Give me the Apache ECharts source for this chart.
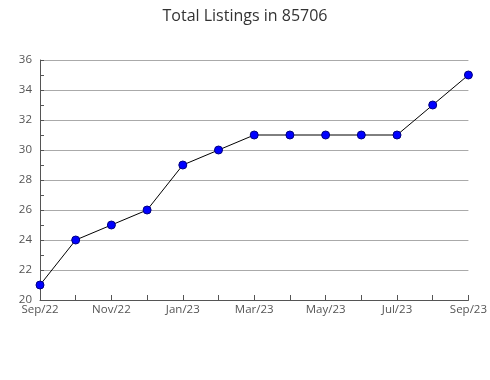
<!DOCTYPE html>
<html><head><meta charset="utf-8">
<script src="https://cdn.jsdelivr.net/npm/echarts@6/dist/echarts.min.js"></script>
<style>html,body{margin:0;padding:0;background:#fff}#c{width:490px;height:380px}</style>
</head><body><div id="c"></div>
<script>
const categories = ['Sep/22','Oct/22','Nov/22','Dec/22','Jan/23','Feb/23','Mar/23','Apr/23','May/23','Jun/23','Jul/23','Aug/23','Sep/23'];
const listings = [21,24,25,26,29,30,31,31,31,31,31,33,35];
const chart = echarts.init(document.getElementById('c'));
chart.setOption({
  animation:false,
  title:{text:'Total Listings in 85706',left:'center',top:3,textStyle:{fontFamily:'Open Sans',fontWeight:'normal',fontSize:16,color:'#333'}},
  grid:{left:40,right:18,top:60,bottom:80},
  xAxis:{type:'category',data:categories,boundaryGap:false,
    axisLine:{lineStyle:{color:'#555'}},
    axisTick:{inside:true,length:5,interval:0,lineStyle:{color:'#555'}},
    axisLabel:{interval:1,color:'#555',fontFamily:'Open Sans',fontSize:11.5,margin:4,showMaxLabel:true},
    splitLine:{show:false}},
  yAxis:{type:'value',min:20,max:36,interval:2,
    axisLine:{show:true,lineStyle:{color:'#555'}},
    axisTick:{show:true,inside:true,length:4,lineStyle:{color:'#555'}},
    minorTick:{show:true,splitNumber:2,length:4,lineStyle:{color:'#555'}},
    axisLabel:{color:'#555',fontFamily:'Open Sans',fontSize:11.5,margin:8},
    splitLine:{lineStyle:{color:'#aaa'}}},
  series:[{type:'line',data:listings,symbol:'circle',symbolSize:8,
    lineStyle:{color:'#000',width:1},
    itemStyle:{color:'#0000ff',borderColor:'#000080',borderWidth:1}}]
});
</script></body></html>
